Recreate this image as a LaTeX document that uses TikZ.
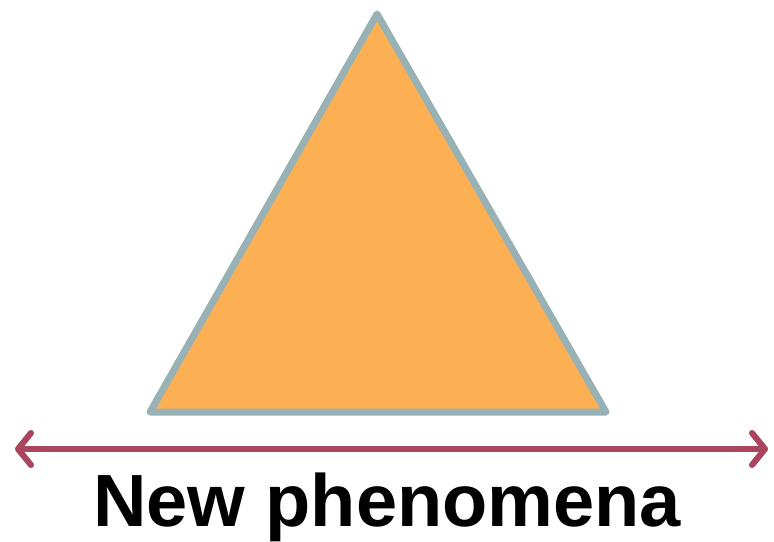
\documentclass[tikz,border=0pt]{standalone}
\usepackage{fontspec}
\setmainfont{Liberation Sans}
\usetikzlibrary{arrows.meta}
\definecolor{peak}{HTML}{FCB053}
\definecolor{rim}{HTML}{97B1B5}
\definecolor{rimshade}{HTML}{C98A6E}
\definecolor{span}{HTML}{AA4560}

\begin{document}
\begin{tikzpicture}[x=1pt, y=-1pt]
\useasboundingbox (0,0) rectangle (774,541);
\coordinate (apex) at (377,14);
\coordinate (lft) at (150,412);
\coordinate (rgt) at (606,412);
\coordinate (west) at (15,449);
\coordinate (east) at (768,449);
% triangle
\filldraw[fill=peak, draw=rimshade, line width=3pt, line join=round] (apex) -- (lft) -- (rgt) -- cycle;
\draw[rim, line width=7pt, line join=round, xshift=-2pt, yshift=-1pt] (apex) -- (lft) -- (rgt) -- cycle;
% arrow with shadow
\draw[black!45, opacity=0.45, line width=6pt, line cap=round, {Straight Barb[length=13pt,width=32pt,round]}-{Straight Barb[length=13pt,width=32pt,round]}, xshift=2pt, yshift=-4pt] (west) -- (east);
\draw[span, line width=6pt, line cap=round, {Straight Barb[length=13pt,width=32pt,round]}-{Straight Barb[length=13pt,width=32pt,round]}] (west) -- (east);
\node[anchor=base, font=\fontsize{74}{80}\selectfont\bfseries, inner sep=0pt] (label) at (387,526) {New phenomena};
\end{tikzpicture}
\end{document}
